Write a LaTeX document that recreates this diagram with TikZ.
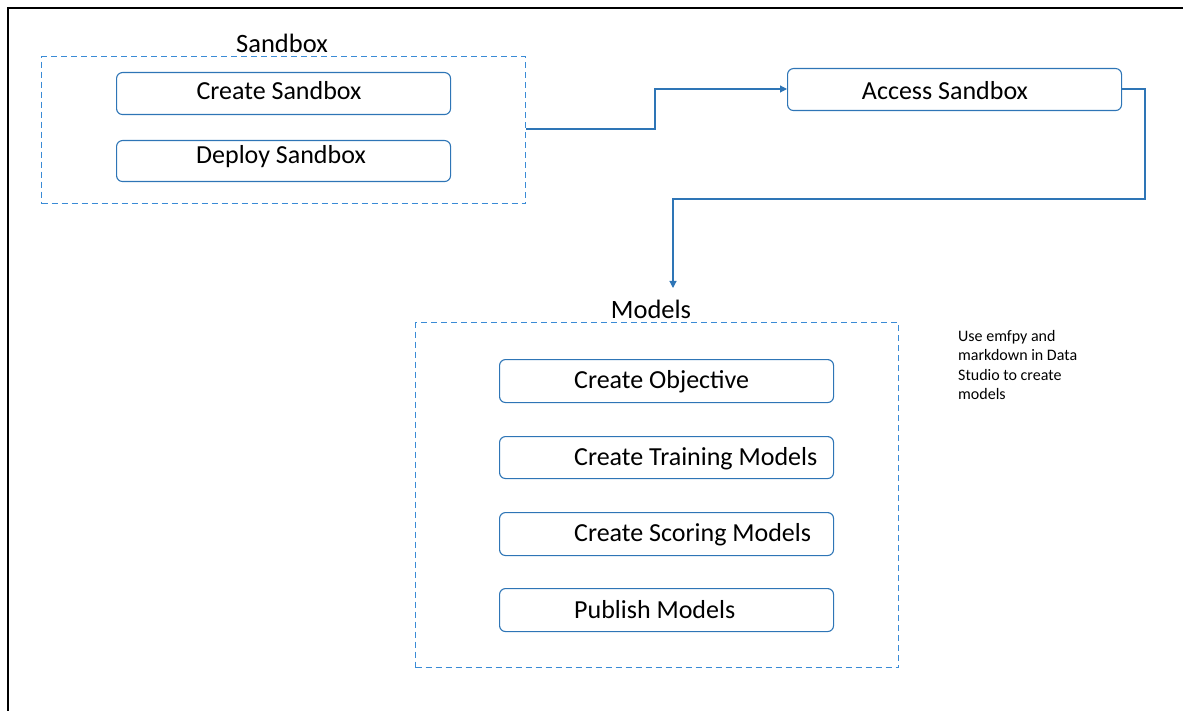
\documentclass[tikz,border=0pt]{standalone}
\usepackage{fontspec}
\setmainfont{Carlito}
\usetikzlibrary{arrows.meta}
\definecolor{lineblue}{HTML}{2E75B6}
\definecolor{dashblue}{HTML}{3A8BD6}
\tikzset{
  stepbox/.style={draw=lineblue, line width=1.1pt, rounded corners=6pt, minimum width=334pt, minimum height=42pt, inner sep=0pt},
  groupbox/.style={draw=dashblue, line width=1.4pt, dash pattern=on 6pt off 4pt},
  conn/.style={draw=lineblue, line width=1.1pt},
  boxtext/.style={font=\fontsize{26}{30}\selectfont, inner sep=0pt},
  grouptext/.style={font=\fontsize{26.5}{30}\selectfont, inner sep=0pt},
}
\begin{document}
\begin{tikzpicture}[x=1pt,y=-1pt]
\useasboundingbox (0,0) rectangle (1183,711);
% frame
\draw[line width=2.5pt] (1183,8) -- (8,8) -- (8,711);
% Sandbox group
\node[groupbox, minimum width=484pt, minimum height=147pt, anchor=north west, inner sep=0pt] (sbgroup) at (41,56) {};
\node[grouptext] (sblabel) at (282,43) {Sandbox};
\node[stepbox, anchor=north west] (create) at (116,72) {};
\node[boxtext] (createtxt) at (279,91) {Create Sandbox};
\node[stepbox, anchor=north west, minimum height=41pt] (deploy) at (116,140) {};
\node[boxtext] (deploytxt) at (281,157) {Deploy Sandbox};
% Access
\node[stepbox, anchor=north west] (access) at (787,68) {};
\node[boxtext] (accesstxt) at (945,91) {Access Sandbox};
% Models group
\node[groupbox, minimum width=483pt, minimum height=345pt, anchor=north west, inner sep=0pt] (mgroup) at (415,322) {};
\node[grouptext] (mlabel) at (651,309) {Models};
\node[stepbox, anchor=north west, minimum height=43pt] (obj) at (499,359) {};
\node[boxtext, anchor=west] (objtxt) at (574,382) {Create Objective};
\node[stepbox, anchor=north west] (train) at (499,436) {};
\node[boxtext, anchor=west] (traintxt) at (574,459) {Create Training Models};
\node[stepbox, anchor=north west, minimum height=43pt] (score) at (499,512) {};
\node[boxtext, anchor=west] (scoretxt) at (574,535) {Create Scoring Models};
\node[stepbox, anchor=north west, minimum height=43pt] (pub) at (499,588) {};
\node[boxtext, anchor=west] (pubtxt) at (574,610) {Publish Models};
% note
\node[anchor=north west, align=left, font=\fontsize{16}{19.5}\selectfont, inner sep=0pt] (note) at (958,330) {Use emfpy and\\markdown in Data\\Studio to create\\models};
% connectors
\coordinate (c1) at (655,129);
\coordinate (c2) at (655,89);
\draw[conn, -{Triangle[length=7pt,width=7pt]}] (sbgroup.east |- c1) -- (c1) -- (c2) -- (access.west |- c2);
\coordinate (d1) at (1145,89);
\coordinate (d2) at (1145,199);
\coordinate (d3) at (673,199);
\coordinate (d4) at (673,288);
\draw[conn, -{Triangle[length=7pt,width=7pt]}] (access.east |- d1) -- (d1) -- (d2) -- (d3) -- (d4);
\end{tikzpicture}
\end{document}
